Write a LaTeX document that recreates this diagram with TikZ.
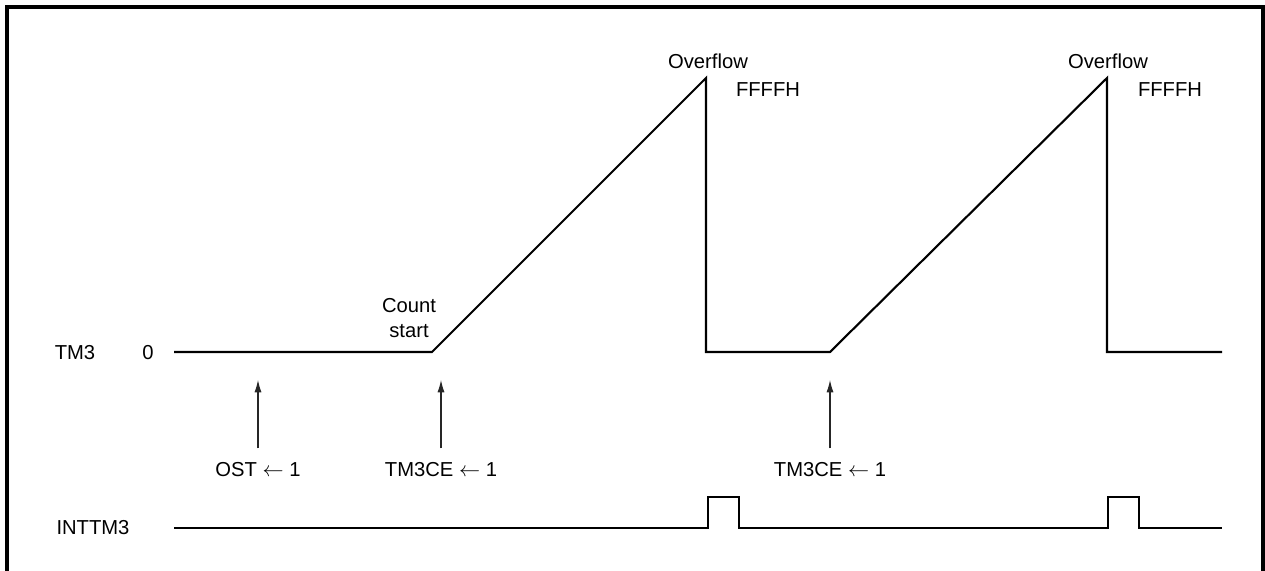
\documentclass[tikz,border=0pt]{standalone}
\usepackage{fontspec}
\setmainfont{Liberation Sans}
\usetikzlibrary{arrows.meta}

\begin{document}
\begin{tikzpicture}[x=0.02cm, y=-0.02cm,
    every node/.style={font=\fontsize{11.5}{14}\selectfont, inner sep=2pt},
    wave/.style={line width=1.2pt, line join=miter},
    trig/.style={line width=0.6pt, black!85, -{Latex[length=7pt,width=4pt]}, shorten <=6pt}]
    \useasboundingbox (0,0) rectangle (1265,571);

    % 外框 (底边在图外)
    \draw[line width=1.8pt] (7,575) -- (7,7) -- (1263,7) -- (1263,575);

    % 信号名
    \node (tm3) at (75,353) {TM3};
    \node (zero) at (148,353) {0};
    \node (inttm3) at (93,528) {INTTM3};

    % TM3 计数波形
    \draw[wave] (174,352) -- (432,352) coordinate (start1) -- (706,78)
        -- (706,352) -- (830,352) coordinate (start2) -- (1107,78)
        -- (1107,352) -- (1222,352);
    \coordinate (ost-tip) at (258,380);
    \coordinate (ce1-tip) at (441,380);
    \coordinate (ce2-tip) at (830,380);

    % 波形标注
    \node[align=center] (cnt) at (409,318) {Count\\start};
    \node (ovf1) at (708,61) {Overflow};
    \node (ff1) at (768,90) {FFFFH};
    \node (ovf2) at (1108,61) {Overflow};
    \node (ff2) at (1170,90) {FFFFH};

    % 触发操作
    \node[anchor=north] (ost) at (258,459) {OST $\leftarrow$ 1};
    \node[anchor=north] (ce1) at (441,459) {TM3CE $\leftarrow$ 1};
    \node[anchor=north] (ce2) at (830,459) {TM3CE $\leftarrow$ 1};
    \draw[trig] (ost) -- (ost-tip);
    \draw[trig] (ce1) -- (ce1-tip);
    \draw[trig] (ce2) -- (ce2-tip);

    % INTTM3 中断脉冲
    \draw[wave] (174,528) -- (708,528) -- (708,497) -- (739,497) -- (739,528)
        -- (1108,528) -- (1108,497) -- (1139,497) -- (1139,528) -- (1222,528);
\end{tikzpicture}
\end{document}
